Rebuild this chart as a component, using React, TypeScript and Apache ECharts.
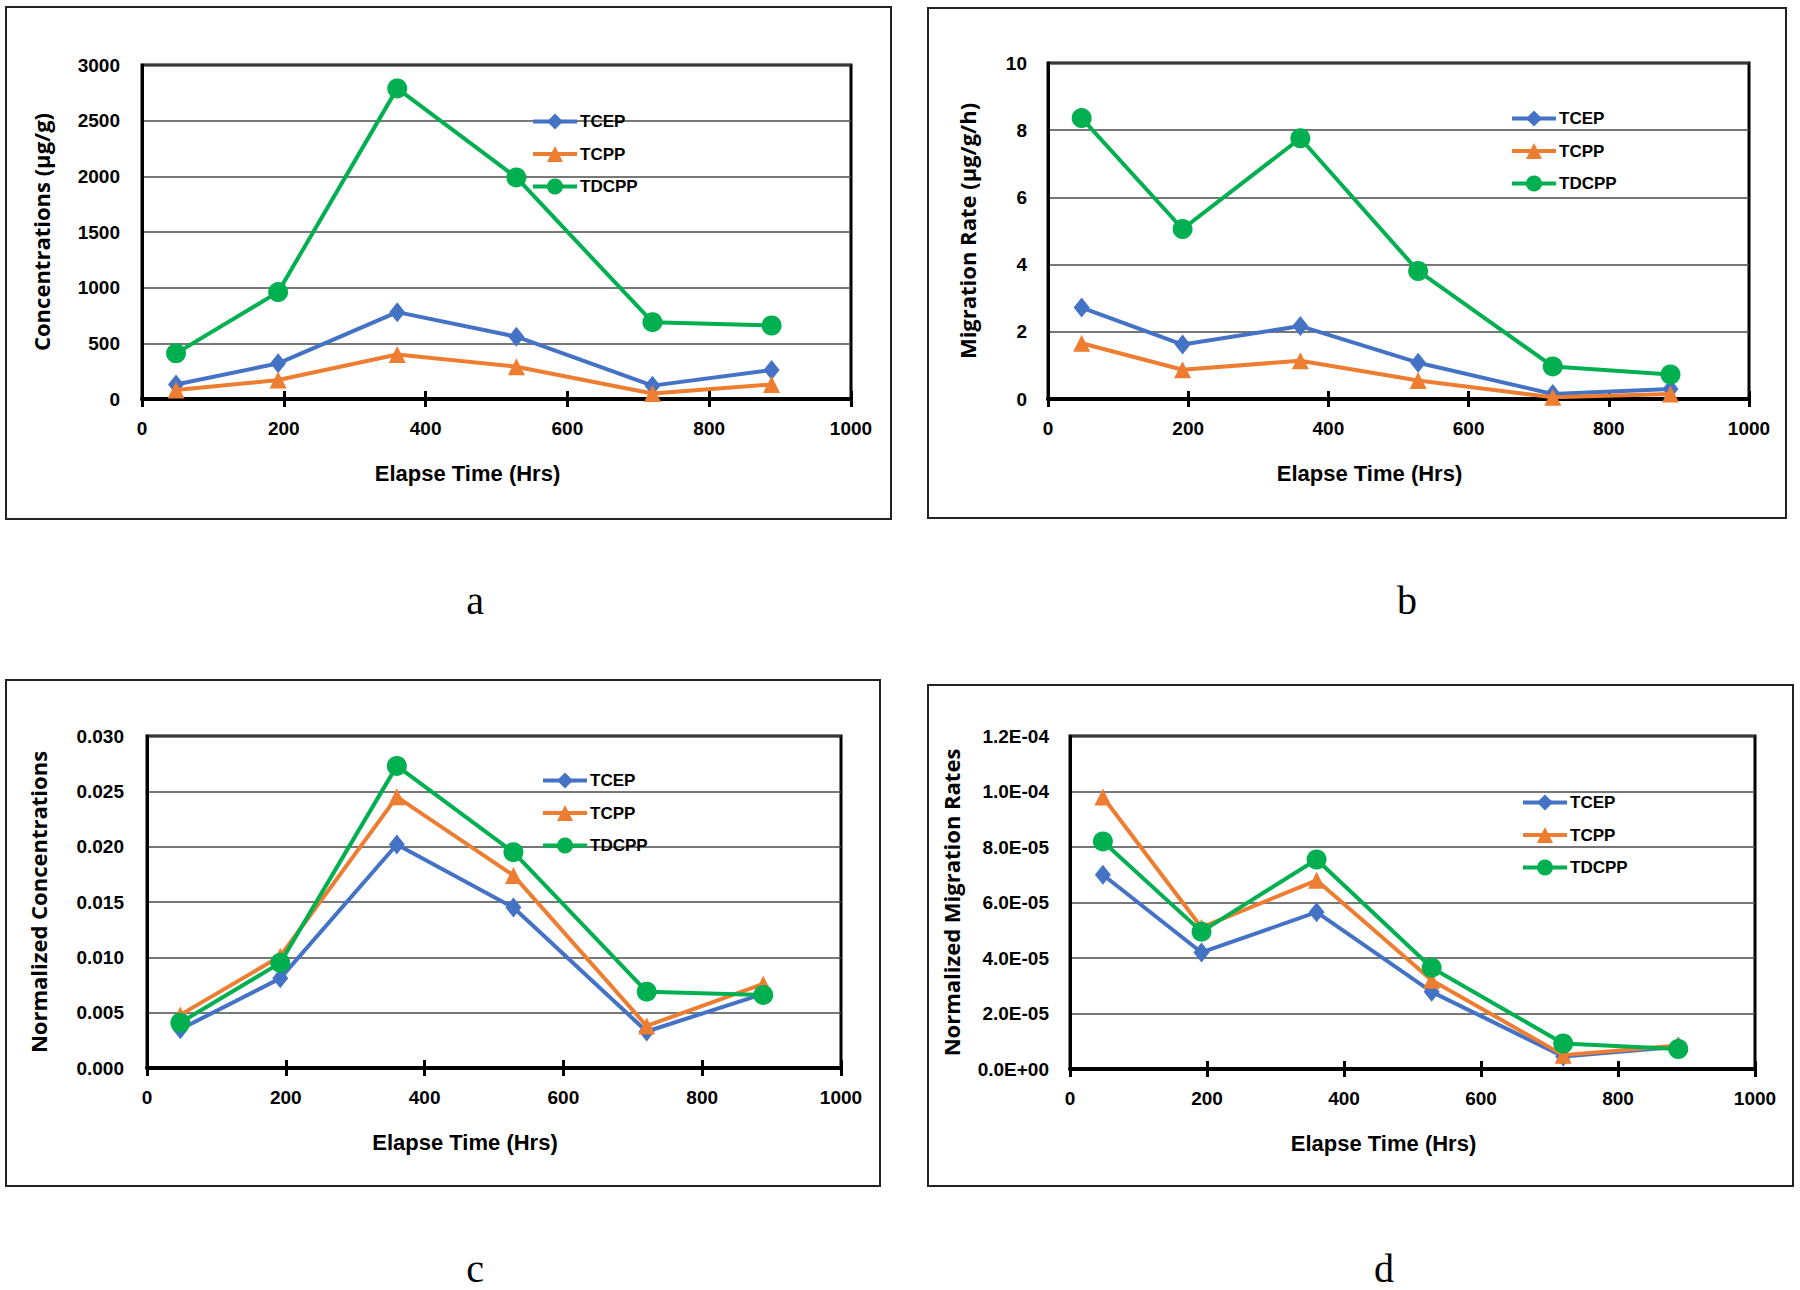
import React, { useEffect, useRef } from "react";
import * as echarts from "echarts";

const HOURS = [48, 192, 360, 528, 720, 888];
const SERIES_NAMES = ["TCEP", "TCPP", "TDCPP"];

// Panel a: Concentrations (µg/g)
const A_TCEP = [130, 320, 780, 560, 120, 260];
const A_TCPP = [80, 170, 400, 290, 50, 130];
const A_TDCPP = [410, 960, 2790, 1990, 690, 660];

// Panel b: Migration Rate (µg/g/h)
const B_TCEP = [2.72, 1.62, 2.17, 1.08, 0.15, 0.3];
const B_TCPP = [1.66, 0.87, 1.14, 0.55, 0.05, 0.15];
const B_TDCPP = [8.36, 5.06, 7.76, 3.81, 0.97, 0.73];

// Panel c: Normalized Concentrations
const C_TCEP = [0.0035, 0.0081, 0.0202, 0.0145, 0.0033, 0.0067];
const C_TCPP = [0.0048, 0.0101, 0.0245, 0.0174, 0.0038, 0.0076];
const C_TDCPP = [0.0041, 0.0095, 0.0273, 0.0195, 0.0069, 0.0066];

// Panel d: Normalized Migration Rates
const D_TCEP = [7.0e-5, 4.2e-5, 5.65e-5, 2.78e-5, 4.5e-6, 8.0e-6];
const D_TCPP = [9.8e-5, 5.1e-5, 6.8e-5, 3.2e-5, 5.0e-6, 8.5e-6];
const D_TDCPP = [8.2e-5, 4.95e-5, 7.55e-5, 3.65e-5, 9.2e-6, 7.2e-6];

const X_TICKS = [0, 200, 400, 600, 800, 1000];
const PANEL_LETTERS = ["a", "b", "c", "d"];

const COLORS = ["#4472C4", "#ED7D31", "#00B050"];
const SYMBOLS = ["diamond", "triangle", "circle"];
const SYMBOL_SIZES: any[] = [[16, 20], 17, 20];

const NARROW = "'Liberation Sans Narrow', 'Liberation Sans', Arial, sans-serif";
const WIDE = "'Open Sans', 'Noto Sans', sans-serif";

function sci(v: number) {
  if (v === 0) return "0.0E+00";
  const e = Math.floor(Math.log10(Math.abs(v)) + 1e-9);
  const m = v / Math.pow(10, e);
  const sign = e < 0 ? "-" : "+";
  const ae = Math.abs(e);
  return m.toFixed(1) + "E" + sign + (ae < 10 ? "0" + ae : String(ae));
}

const PANELS = [
  {
    grid: { left: 142, top: 65, width: 709, height: 334 },
    frame: [6, 7, 885, 512],
    yName: "Concentrations (µg/g)",
    yMax: 3000, yInt: 500, yFmt: (v: number) => String(Math.round(v)),
    yNameGap: 90, yLabelMargin: 22,
    data: [A_TCEP, A_TCPP, A_TDCPP],
    legend: { left: 526, top: 108 },
    letter: [475, 600],
  },
  {
    grid: { left: 1048, top: 63, width: 701, height: 336 },
    frame: [928, 8, 858, 510],
    yName: "Migration Rate (µg/g/h)",
    yMax: 10, yInt: 2, yFmt: (v: number) => String(Math.round(v)),
    yNameGap: 70, yLabelMargin: 21,
    data: [B_TCEP, B_TCPP, B_TDCPP],
    legend: { left: 1505, top: 105 },
    letter: [1407, 600],
  },
  {
    grid: { left: 147, top: 736, width: 694, height: 332 },
    frame: [6, 680, 874, 506],
    yName: "Normalized Concentrations",
    yMax: 0.03, yInt: 0.005, yFmt: (v: number) => v.toFixed(3),
    yNameGap: 98, yLabelMargin: 23,
    data: [C_TCEP, C_TCPP, C_TDCPP],
    legend: { left: 536, top: 767 },
    letter: [475, 1268],
  },
  {
    grid: { left: 1070, top: 736, width: 685, height: 333 },
    frame: [928, 685, 865, 501],
    yName: "Normalized Migration Rates",
    yMax: 1.2e-4, yInt: 2e-5, yFmt: (v: number) => sci(v),
    yNameGap: 108, yLabelMargin: 21,
    data: [D_TCEP, D_TCPP, D_TDCPP],
    legend: { left: 1516, top: 789 },
    letter: [1384, 1268],
  },
];

export default function App() {
  const ref = useRef<HTMLDivElement>(null);

  useEffect(() => {
    document.body.style.margin = "0";
    const chart = echarts.init(ref.current!, undefined, { renderer: "svg" });

    const grids: any[] = [];
    const xAxes: any[] = [];
    const yAxes: any[] = [];
    const series: any[] = [];
    const legends: any[] = [];
    const graphics: any[] = [];

    PANELS.forEach((p, i) => {
      grids.push({
        ...p.grid,
        show: true,
        borderColor: "#000",
        borderWidth: 3,
        backgroundColor: "transparent",
      });
      xAxes.push({
        type: "value",
        gridIndex: i,
        min: X_TICKS[0],
        max: X_TICKS[X_TICKS.length - 1],
        interval: 200,
        name: "Elapse Time (Hrs)",
        nameLocation: "middle",
        nameGap: 63,
        nameTextStyle: {
          fontFamily: NARROW,
          fontWeight: "bold",
          fontSize: 22,
          color: "#000",
          padding: [0, 58, 0, 0],
        },
        axisLine: { show: true, onZero: false, lineStyle: { color: "#000", width: 4 } },
        axisTick: { show: true, inside: false, length: 8, lineStyle: { color: "#000", width: 3 } },
        axisLabel: {
          margin: 20,
          fontFamily: NARROW,
          fontWeight: "bold",
          fontSize: 19,
          color: "#000",
          formatter: (v: number) => String(Math.round(v)),
        },
        splitLine: { show: false },
      });
      xAxes.push({
        type: "value",
        gridIndex: i,
        min: X_TICKS[0],
        max: X_TICKS[X_TICKS.length - 1],
        interval: 200,
        position: "bottom",
        axisLine: { show: false },
        axisTick: { show: true, inside: true, length: 8, lineStyle: { color: "#000", width: 3 } },
        axisLabel: { show: false },
        splitLine: { show: false },
      });
      yAxes.push({
        type: "value",
        gridIndex: i,
        min: 0,
        max: p.yMax,
        interval: p.yInt,
        name: p.yName,
        nameLocation: "middle",
        nameRotate: 90,
        nameGap: p.yNameGap,
        nameTextStyle: {
          fontFamily: WIDE,
          fontWeight: "bold",
          fontSize: 22,
          color: "#000",
        },
        axisLine: { show: true, lineStyle: { color: "#000", width: 3 } },
        axisTick: { show: false },
        axisLabel: {
          margin: p.yLabelMargin,
          fontFamily: NARROW,
          fontWeight: "bold",
          fontSize: 19,
          color: "#000",
          formatter: p.yFmt,
        },
        splitLine: { show: true, lineStyle: { color: "#4a4a4a", width: 1.5 } },
      });
      p.data.forEach((vals, k) => {
        series.push({
          type: "line",
          name: SERIES_NAMES[k],
          xAxisIndex: i * 2,
          yAxisIndex: i,
          data: HOURS.map((h, j) => [h, vals[j]]),
          symbol: SYMBOLS[k],
          symbolSize: SYMBOL_SIZES[k],
          showAllSymbol: true,
          lineStyle: { color: COLORS[k], width: 4 },
          itemStyle: { color: COLORS[k], borderWidth: 0 },
          z: 3 + k,
        });
      });
      legends.push({
        orient: "vertical",
        left: p.legend.left,
        top: p.legend.top,
        itemWidth: 44,
        itemHeight: 20,
        itemGap: 15.5,
        selectedMode: false,
        data: SERIES_NAMES,
        lineStyle: { width: 4 },
        textStyle: {
          fontFamily: NARROW,
          fontWeight: "bold",
          fontSize: 17,
          color: "#000",
          padding: [0, 0, 0, -2],
        },
      });
      graphics.push({
        type: "rect",
        shape: { x: p.frame[0], y: p.frame[1], width: p.frame[2], height: p.frame[3] },
        style: { fill: "none", stroke: "#222", lineWidth: 2 },
        silent: true,
        z: -1,
      });
      graphics.push({
        type: "text",
        x: p.letter[0],
        y: p.letter[1],
        style: {
          text: PANEL_LETTERS[i],
          fontFamily: "'Liberation Serif', 'Times New Roman', serif",
          fontSize: 40,
          fill: "#000",
          align: "center",
          verticalAlign: "middle",
        },
      });
    });

    chart.setOption({
      animation: false,
      backgroundColor: "#fff",
      grid: grids,
      xAxis: xAxes,
      yAxis: yAxes,
      series,
      legend: legends,
      graphic: graphics,
    });

    return () => chart.dispose();
  }, []);

  return <div ref={ref} style={{ width: 1800, height: 1290 }} />;
}
